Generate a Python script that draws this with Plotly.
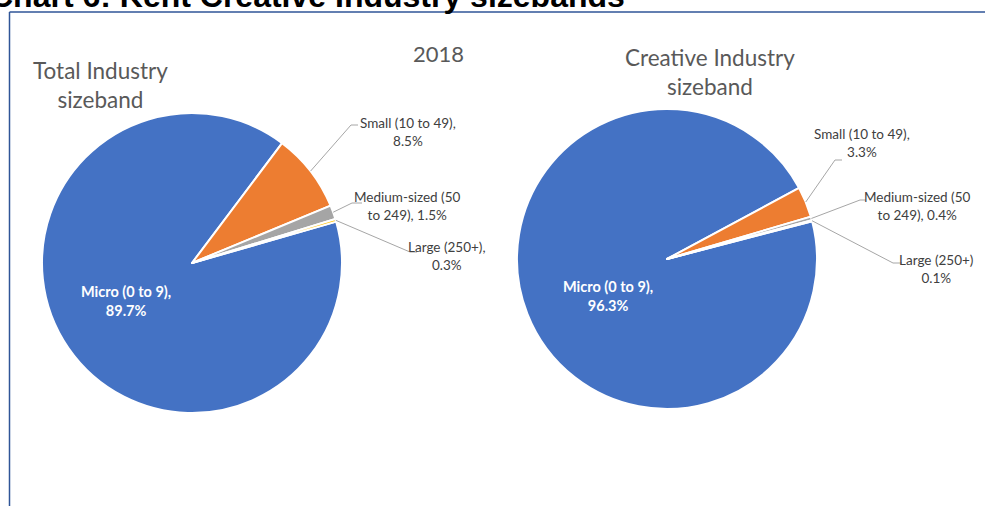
import math
import plotly.graph_objects as go

# Size-band shares (%) for Kent, 2018
bands = ["Micro (0 to 9)", "Small (10 to 49)", "Medium-sized (50 to 249)", "Large (250+)"]
total_industry = [89.7, 8.5, 1.5, 0.3]
creative_industry = [96.3, 3.3, 0.4, 0.1]
band_colors = ["#4472C4", "#ED7D31", "#A5A5A5", "#FFC000"]

W, H = 985, 506
LABEL_FONT = "Lato"
GREY = "#595959"


def px(x):
    return x / W


def py(y):
    return 1 - y / H


# pie geometry in pixels: centre x, centre y, radius, start rotation (deg clockwise from 12 o'clock)
pies = [
    dict(values=total_industry, cx=192, cy=263, r=150, rot=74.0, name="Total Industry sizeband"),
    dict(values=creative_industry, cx=667, cy=259, r=150, rot=75.4, name="Creative Industry sizeband"),
]

fig = go.Figure()
for p in pies:
    fig.add_trace(go.Pie(
        labels=bands,
        values=p["values"],
        name=p["name"],
        sort=False,
        direction="clockwise",
        rotation=p["rot"],
        marker=dict(colors=band_colors, line=dict(color="white", width=2)),
        textinfo="none",
        hoverinfo="label+percent",
        showlegend=False,
        domain=dict(x=[px(p["cx"] - p["r"]), px(p["cx"] + p["r"])],
                    y=[py(p["cy"] + p["r"]), py(p["cy"] - p["r"])]),
    ))


def slice_mid_angles(values, rot):
    """Mid angle (deg, clockwise from 12 o'clock) of each slice."""
    tot = sum(values)
    a = rot
    mids = []
    for v in values:
        span = 360.0 * v / tot
        mids.append(a + span / 2)
        a += span
    return mids


def edge_point(p, ang):
    t = math.radians(ang)
    return p["cx"] + p["r"] * math.sin(t), p["cy"] - p["r"] * math.cos(t)


annotations = []
shapes = []

# outside label layout: (elbow x, elbow y, horizontal end x, label centre x, label top y, text)
outside = [
    # Total industry
    [
        None,
        (351, 125, 358, 408, 113, "Small (10 to 49),<br>8.5%"),
        (352, 203, 362, 407, 187, "Medium-sized (50<br>to 249), 1.5%"),
        (410, 252, 417, 447, 237, "Large (250+),<br>0.3%"),
    ],
    # Creative industry
    [
        None,
        (835, 160, 842, 862, 124, "Small (10 to 49),<br>3.3%"),
        (860, 200, 866, 917, 187, "Medium-sized (50<br>to 249), 0.4%"),
        (893, 263, 902, 936, 250, "Large (250+)<br>0.1%"),
    ],
]
micro_pos = [(126, 301), (608, 296)]

for k, p in enumerate(pies):
    mids = slice_mid_angles(p["values"], p["rot"])
    for i, spec in enumerate(outside[k]):
        if spec is None:
            continue
        ex, ey, hx, tx, ty, txt = spec
        sx, sy = edge_point(p, mids[i])
        shapes.append(dict(
            type="path", xref="paper", yref="paper",
            path=f"M {px(sx)} {py(sy)} L {px(ex)} {py(ey)} L {px(hx)} {py(ey)}",
            line=dict(color="#A6A6A6", width=1),
        ))
        annotations.append(dict(
            text=txt, x=px(tx), y=py(ty), xref="paper", yref="paper",
            xanchor="center", yanchor="top", showarrow=False, align="center",
            font=dict(family=LABEL_FONT, size=13.5, color="#404040"),
        ))
    mx, my = micro_pos[k]
    annotations.append(dict(
        text=f"<b>{bands[0]},<br>{p['values'][0]}%</b>", x=px(mx), y=py(my),
        xref="paper", yref="paper", xanchor="center", yanchor="middle",
        showarrow=False, align="center",
        font=dict(family=LABEL_FONT, size=14.5, color="white"),
    ))

# chart headings
annotations += [
    dict(text="Total Industry<br>sizeband", x=px(100), y=py(85), xanchor="center", yanchor="middle",
         xref="paper", yref="paper", showarrow=False, align="center",
         font=dict(family=LABEL_FONT, size=22.5, color=GREY)),
    dict(text="2018", x=px(438), y=py(53), xanchor="center", yanchor="middle",
         xref="paper", yref="paper", showarrow=False,
         font=dict(family=LABEL_FONT, size=22, color=GREY)),
    dict(text="Creative Industry<br>sizeband", x=px(710), y=py(72), xanchor="center", yanchor="middle",
         xref="paper", yref="paper", showarrow=False, align="center",
         font=dict(family=LABEL_FONT, size=22.5, color=GREY)),
    dict(text="<b>Chart 6: Kent Creative Industry sizebands</b>", x=px(-12), y=py(5),
         xanchor="left", yanchor="bottom", yshift=-11,
         xref="paper", yref="paper", showarrow=False,
         font=dict(family="Liberation Sans", size=32, color="black")),
]

# frame around the chart area
shapes += [
    dict(type="line", xref="paper", yref="paper", x0=px(9.5), x1=px(9.5), y0=py(12), y1=py(H),
         line=dict(color="#2F5597", width=1.5)),
    dict(type="line", xref="paper", yref="paper", x0=px(9.5), x1=px(W), y0=py(12), y1=py(12),
         line=dict(color="#2F5597", width=1.5)),
]

fig.update_layout(
    width=W, height=H,
    margin=dict(l=0, r=0, t=0, b=0),
    paper_bgcolor="white", plot_bgcolor="white",
    annotations=annotations, shapes=shapes,
)

fig.write_html("out.html")
